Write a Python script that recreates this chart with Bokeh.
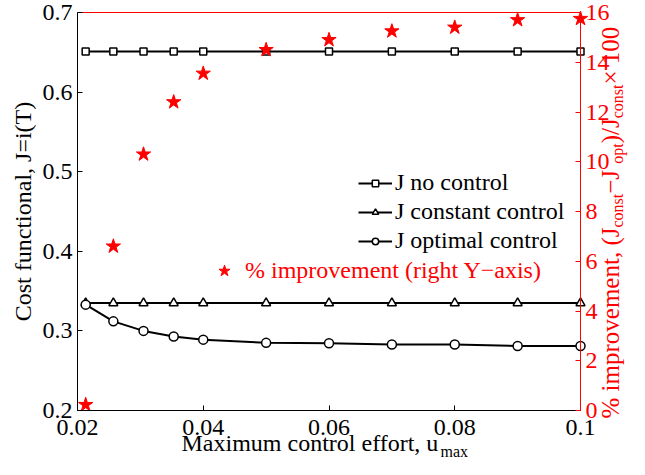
import math
from bokeh.plotting import figure
from bokeh.models import (Range1d, LinearAxis, FixedTicker, CustomJSTickFormatter,
                          Legend, LegendItem, Label)
from bokeh.embed import file_html
from bokeh.resources import INLINE

# ---------------- data ----------------
u_max = [0.0213, 0.0257, 0.0305, 0.0353, 0.04, 0.05, 0.06, 0.07, 0.08, 0.09, 0.1]
J_no_control = [0.651, 0.651, 0.651, 0.651, 0.651, 0.651, 0.651, 0.651, 0.651, 0.651, 0.651]
J_constant = [0.335, 0.335, 0.335, 0.335, 0.335, 0.335, 0.335, 0.335, 0.335, 0.335, 0.335]
J_optimal = [0.333, 0.312, 0.300, 0.293, 0.289, 0.285, 0.2845, 0.283, 0.283, 0.281, 0.281]
improvement = [0.23, 6.6, 10.3, 12.4, 13.55, 14.5, 14.9, 15.25, 15.4, 15.7, 15.75]

x_ticks = [0.02, 0.04, 0.06, 0.08, 0.1]
y_ticks = [0.2, 0.3, 0.4, 0.5, 0.6, 0.7]
y2_ticks = [0, 2, 4, 6, 8, 10, 12, 14, 16]

X0, X1 = 0.02, 0.1
Y0, Y1 = 0.2, 0.7
R0, R1 = 0.0, 16.0
FONT = "Liberation Serif"

# ---------------- layout (pixels) ----------------
W, H = 629, 459
PL, PR, PT, PB = 77, 580, 12, 410   # where the data box sits on the canvas

def extend(a, b, pa, pb, total, flip=False):
    """Range covering the whole canvas so that a->pa and b->pb (pixels)."""
    if not flip:
        k = (b - a) / (pb - pa)
        return Range1d(a - pa * k, b + (total - pb) * k)
    k = (b - a) / (pa - pb)
    return Range1d(a - (total - pa) * k, b + pb * k)

p = figure(width=W, height=H, output_backend="svg", toolbar_location=None,
           x_range=extend(X0, X1, PL, PR, W),
           y_range=extend(Y0, Y1, PB, PT, H, flip=True),
           x_axis_type=None, y_axis_type=None,
           min_border=0, min_border_left=0, min_border_right=0,
           min_border_top=0, min_border_bottom=0)
p.extra_y_ranges = {"right": extend(R0, R1, PB, PT, H, flip=True)}
p.background_fill_color = "white"
p.border_fill_color = "white"
p.outline_line_color = None

fmt = CustomJSTickFormatter(code="return String(Math.round(tick*1000)/1000)")

def style_axis(ax, color):
    ax.axis_line_color = color
    ax.axis_line_width = 1
    ax.major_tick_line_color = color
    ax.major_tick_in = 5
    ax.major_tick_out = 0
    ax.minor_tick_line_color = None
    ax.major_label_text_font = FONT
    ax.major_label_text_font_size = "24px"
    ax.major_label_text_color = color

xa = LinearAxis(ticker=FixedTicker(ticks=x_ticks), formatter=fmt,
                fixed_location=Y0, bounds=(X0, X1))
style_axis(xa, "black")
xa.major_label_standoff = 9
p.add_layout(xa, "below")

ya = LinearAxis(ticker=FixedTicker(ticks=y_ticks), formatter=fmt,
                fixed_location=X0, bounds=(Y0, Y1))
style_axis(ya, "black")
ya.major_label_standoff = 5
p.add_layout(ya, "left")

ra = LinearAxis(y_range_name="right", ticker=FixedTicker(ticks=y2_ticks), formatter=fmt,
                fixed_location=X1, bounds=(R0, R1))
style_axis(ra, "red")
ra.major_label_standoff = 5
p.add_layout(ra, "right")

ta = LinearAxis(ticker=FixedTicker(ticks=[]), fixed_location=Y1, bounds=(X0, X1))
ta.axis_line_color = "red"
ta.major_label_text_font_size = "0px"
ta.major_tick_line_color = None
ta.minor_tick_line_color = None
p.add_layout(ta, "above")

# ---------------- series ----------------
l1 = p.line(u_max, J_no_control, line_color="black", line_width=2)
s1 = p.scatter(u_max, J_no_control, marker="square", size=7, line_color="black",
               fill_color="white", line_width=1.5)
l2 = p.line(u_max, J_constant, line_color="black", line_width=2)
s2 = p.scatter(u_max, J_constant, marker="triangle", size=9, line_color="black",
               fill_color="white", line_width=1.5)
l3 = p.line(u_max, J_optimal, line_color="black", line_width=2)
s3 = p.scatter(u_max, J_optimal, marker="circle", size=9, line_color="black",
               fill_color="white", line_width=1.5)
st = p.scatter(u_max, improvement, marker="star", size=15, color="red",
               y_range_name="right")

# ---------------- legends ----------------
leg1 = Legend(items=[LegendItem(label="J no control", renderers=[l1, s1]),
                     LegendItem(label="J constant control", renderers=[l2, s2]),
                     LegendItem(label="J optimal control", renderers=[l3, s3])],
              location=(358, H - 255), padding=0, spacing=0, margin=0,
              glyph_width=34, glyph_height=16, label_height=29, label_standoff=3,
              label_text_font=FONT, label_text_font_size="24px",
              label_text_color="black", border_line_color=None,
              background_fill_alpha=0)
leg2 = Legend(items=[LegendItem(label="% improvement (right Y\u2212axis)", renderers=[st])],
              location=(207, H - 284.5), padding=0, spacing=0, margin=0,
              glyph_width=34, glyph_height=29, label_height=29, label_standoff=4,
              label_text_font=FONT, label_text_font_size="24px",
              label_text_color="red", border_line_color=None,
              background_fill_alpha=0)
p.add_layout(leg1)
p.add_layout(leg2)

# ---------------- axis titles (manual, with subscripts) ----------------
BASE = 0.42  # Bokeh's "alphabetic" anchor sits this many em below the true baseline

def add_text(text, px, py, size, color="black", vertical=False, align="left"):
    """px, py: canvas pixels (from top-left) of the wanted baseline start."""
    if vertical:
        px = px - BASE * size
        angle = math.pi / 2
    else:
        py = py - BASE * size
        angle = 0.0
    p.add_layout(Label(x=px, y=H - py, x_units="screen", y_units="screen",
                       text=text, angle=angle,
                       text_font=FONT, text_font_size=f"{size}px",
                       text_color=color, text_align=align,
                       text_baseline="alphabetic"))

# x label
add_text("Maximum control effort, u", 181, 453, 24)
add_text("max", 440, 458, 16)

# left y label
add_text("Cost functional, J=i(T)", 33, 211, 24, vertical=True, align="center")

# right y label built from pieces (text runs bottom to top)
EM = {'%': 0.833, ' ': 0.25, 'i': 0.278, 'm': 0.778, 'p': 0.5, 'r': 0.333, 'o': 0.5,
      'v': 0.5, 'e': 0.444, 'n': 0.5, 't': 0.278, ',': 0.25, '(': 0.333, 'J': 0.389,
      'c': 0.444, 's': 0.389, '\u2212': 0.564, ')': 0.333, '/': 0.278, '\u00d7': 0.564,
      '1': 0.5, '0': 0.5}
pieces = [("% improvement, (J", False), ("const", True), (" \u2212J", False),
          ("opt", True), (")/J", False), ("const", True), (" \u00d7 100", False)]
ypos = 418.0
for txt, sub in pieces:
    size = 16 if sub else 25
    bx = 624 if sub else 620
    add_text(txt, bx, ypos, size, color="red", vertical=True)
    ypos -= sum(EM.get(c, 0.5) for c in txt) * size

open("out.html", "w").write(file_html(p, INLINE))
